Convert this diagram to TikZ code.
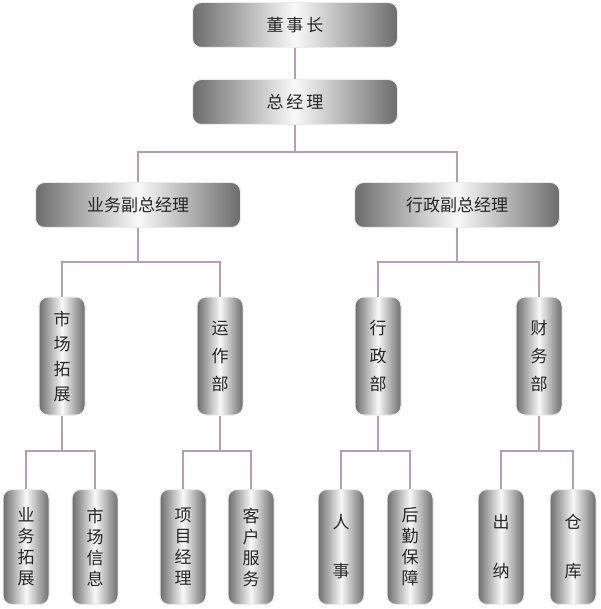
\documentclass[tikz,border=0pt]{standalone}
\usepackage{fontspec}
\setmainfont{Noto Sans CJK SC}
\begin{document}
\begin{tikzpicture}[x=1pt,y=-1pt,
 bx/.style={draw=white!85!gray,line width=1pt,rounded corners=9pt,left color=gray!85!black,right color=gray!85!black,middle color=white!95!gray,inner sep=0pt,font=\fontsize{17}{22}\selectfont,text=black!85},
 hb/.style={bx,minimum width=205pt,minimum height=45pt},
 vb/.style={bx,minimum width=46pt,minimum height=118pt,align=center},
 ln/.style={draw=violet!25!gray!60,line width=2pt}]
\useasboundingbox (0,0) rectangle (600,609);
\node[hb] (a) at (295,25) {董\,事\,长};
\node[hb] (b) at (295,102) {总\,经\,理};
\node[hb] (c) at (138,205) {业务副总经理};
\node[hb] (d) at (457,205) {行政副总经理};
\node[vb] (e) at (62,356) {市\\[3pt]场\\[3pt]拓\\[3pt]展};
\node[vb] (f) at (220,356) {运\\[6pt]作\\[6pt]部};
\node[vb] (g) at (378,356) {行\\[6pt]政\\[6pt]部};
\node[vb] (h) at (539,356) {财\\[6pt]务\\[6pt]部};
\foreach \n/\x/\t in {i/26/{业\\务\\拓\\展},j/95/{市\\场\\信\\息},k/183/{项\\目\\经\\理},l/251/{客\\户\\服\\务},m/341/{人\\[28pt]事},n/410/{后\\勤\\保\\障},o/501/{出\\[28pt]纳},p/573/{仓\\[28pt]库}}
  \node[vb,minimum height=115pt,font=\fontsize{17}{21}\selectfont] (\n) at (\x,547) {\t};
\draw[ln] (a) -- (b);
\draw[ln] (b.south) -- ++(0,27) -| (c.north);
\draw[ln] (b.south) ++(0,27) -| (d.north);
\foreach \p/\q/\r in {c/e/f,d/g/h}{
 \draw[ln] (\p.south) -- ++(0,34) -| (\q.north);
 \draw[ln] (\p.south) ++(0,34) -| (\r.north);}
\foreach \p/\q/\r in {e/i/j,f/k/l,g/m/n,h/o/p}{
 \draw[ln] (\p.south) -- ++(0,35) -| (\q.north);
 \draw[ln] (\p.south) ++(0,35) -| (\r.north);}
\end{tikzpicture}
\end{document}
